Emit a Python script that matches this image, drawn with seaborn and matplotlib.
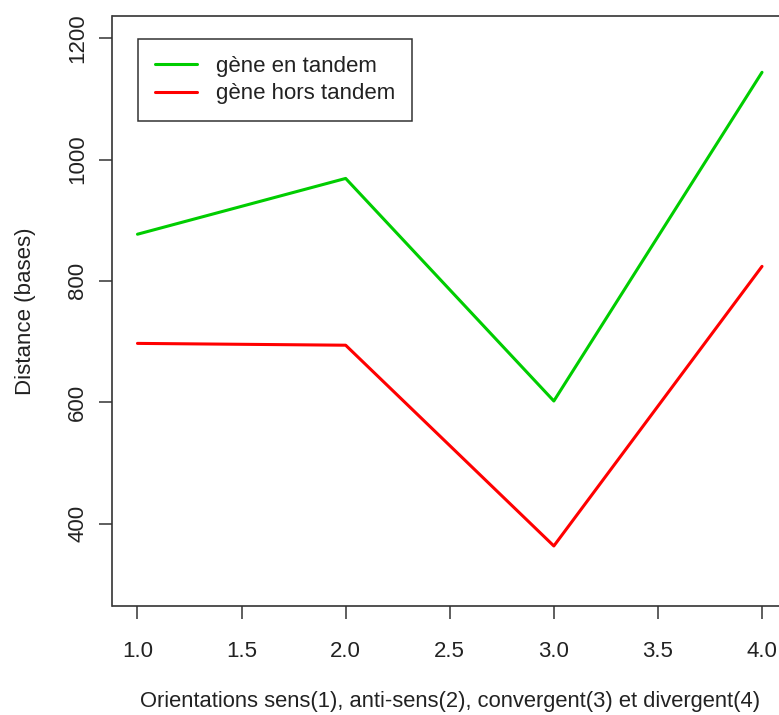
import pandas as pd
import matplotlib
matplotlib.use("Agg")
import matplotlib.pyplot as plt
from matplotlib.lines import Line2D
import seaborn as sns

# Data
orientation = [1, 2, 3, 4]
tandem = [877, 969, 602, 1144]
hors_tandem = [697, 694, 363, 824]
series_names = ["gène en tandem", "gène hors tandem"]
x_ticks = [1.0, 1.5, 2.0, 2.5, 3.0, 3.5, 4.0]
y_ticks = [400, 600, 800, 1000, 1200]

df = pd.concat([
    pd.DataFrame({"orientation": orientation, "distance": tandem, "serie": series_names[0]}),
    pd.DataFrame({"orientation": orientation, "distance": hors_tandem, "serie": series_names[1]}),
], ignore_index=True)

sns.set_style("white")
plt.rcParams["font.family"] = ["Liberation Sans", "DejaVu Sans"]

W, H = 779, 715
fig = plt.figure(figsize=(W / 100, H / 100), dpi=100)
# R-style plot region; the original image is cropped on the right
left, right, top, bottom = 112.5, 787, 16.5, 606
ax = fig.add_axes([left / W, (H - bottom) / H, (right - left) / W, (bottom - top) / H])

sns.lineplot(data=df, x="orientation", y="distance", hue="serie",
             palette={series_names[0]: "#00CD00", series_names[1]: "#FF0000"},
             linewidth=2.2, ax=ax, legend=False)

ax.set_xlim(0.88, 4.12)
ax.set_ylim(264, 1236)
ax.set_xticks(x_ticks)
ax.set_xticklabels([f"{v:.1f}" for v in x_ticks])
ax.set_yticks(y_ticks)
ax.set_yticklabels([str(v) for v in y_ticks], rotation=90, va="center")
ax.tick_params(axis="both", direction="out", length=9.5, width=1.1, color="#333333",
               labelsize=16, labelcolor="#222222", bottom=True, left=True)
ax.tick_params(axis="x", pad=16)
ax.tick_params(axis="y", pad=8)
for s in ax.spines.values():
    s.set_color("#333333")
    s.set_linewidth(1.2)

ax.set_xlabel("Orientations sens(1), anti-sens(2), convergent(3) et divergent(4)",
              fontsize=15.8, color="#222222", labelpad=20.5)
ax.set_ylabel("Distance (bases)", fontsize=16, color="#222222", labelpad=22.5)

handles = [Line2D([], [], color="#00CD00", lw=2.2), Line2D([], [], color="#FF0000", lw=2.2)]
leg = ax.legend(handles, series_names, loc="upper left",
                bbox_to_anchor=((138 - left) / (right - left), (bottom - 39) / (bottom - top)),
                fontsize=16, frameon=True, fancybox=False, borderpad=0.75, handlelength=1.9,
                handletextpad=0.85, labelspacing=0.3, borderaxespad=0)
leg.get_frame().set_edgecolor("black")
leg.get_frame().set_linewidth(1.1)
for t in leg.get_texts():
    t.set_color("#222222")

fig.savefig("out.png", dpi=100)
